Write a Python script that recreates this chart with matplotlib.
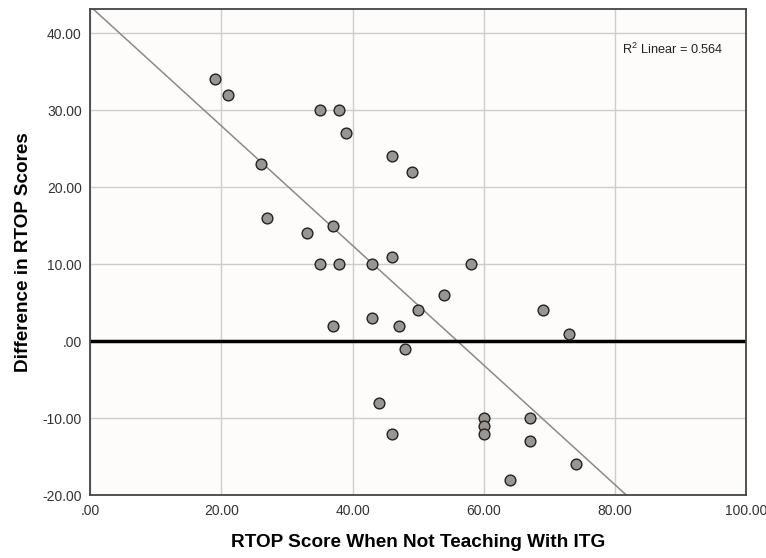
import matplotlib.pyplot as plt
import numpy as np
from matplotlib.ticker import FuncFormatter

# RTOP score when not teaching with ITG (x) vs difference in RTOP scores (y)
rtop_sem_itg = [19, 21, 35, 38, 39, 46, 49, 26, 27, 33, 37, 35, 38, 43, 46, 58,
                37, 43, 47, 44, 46, 54, 50, 48, 69, 73, 60, 60, 60, 67, 67, 74, 64]
diferenca = [34, 32, 30, 30, 27, 24, 22, 23, 16, 14, 15, 10, 10, 10, 11, 10,
             2, 3, 2, -8, -12, 6, 4, -1, 4, 1, -10, -11, -12, -10, -13, -16, -18]

x_ticks = [0, 20, 40, 60, 80, 100]
y_ticks = [-20, -10, 0, 10, 20, 30, 40]
texto_r2 = 'R$^2$ Linear = 0.564'

plt.rcParams['font.family'] = ['Liberation Sans', 'DejaVu Sans']
plt.rcParams['mathtext.fontset'] = 'custom'
plt.rcParams['mathtext.rm'] = 'Liberation Sans'

fig = plt.figure(figsize=(7.66, 5.58), dpi=100)
ax = fig.add_axes([0.1175, 0.1124, 0.857, 0.871])
ax.set_facecolor('#fdfcfa')

# linha de ajuste (minimos quadrados)
coef = np.polyfit(rtop_sem_itg, diferenca, 1)
xs = np.array([0, 100])
ax.plot(xs, np.polyval(coef, xs), color='#8a8a8a', lw=1.1, zorder=2)

ax.axhline(0, color='black', lw=2.5, zorder=2)
ax.scatter(rtop_sem_itg, diferenca, s=60, facecolor='#9a9590', edgecolor='#222222',
           linewidths=1.0, zorder=3)

ax.set_xlim(0, 100)
ax.set_ylim(-20, 43.1)
ax.set_xticks(x_ticks)
ax.set_yticks(y_ticks)

def fmt(v, pos):
    s = '%.2f' % v
    return s[1:] if s.startswith('0.') else s

ax.xaxis.set_major_formatter(FuncFormatter(fmt))
ax.yaxis.set_major_formatter(FuncFormatter(fmt))
ax.tick_params(length=0, labelsize=10, labelcolor='#333333', pad=6)
ax.grid(color='#cfcccc', lw=1.0, zorder=0)
ax.set_axisbelow(True)
for sp in ax.spines.values():
    sp.set_color('#444444')
    sp.set_linewidth(1.3)

ax.text(81.1, 37.9, texto_r2, fontsize=9.2, color='#222222', va='center')

ax.set_xlabel('RTOP Score When Not Teaching With ITG', fontsize=13.7, fontweight='bold',
              labelpad=12)
ax.set_ylabel('Difference in RTOP Scores', fontsize=13.6, fontweight='bold', labelpad=7)

plt.savefig('out.png', dpi=100)
